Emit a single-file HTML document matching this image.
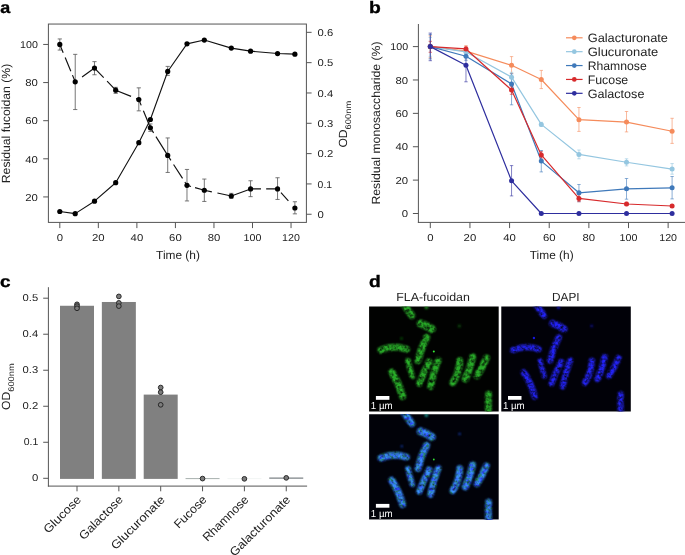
<!DOCTYPE html>
<html lang="en"><head><meta charset="utf-8"><title>Figure</title>
<style>html,body{margin:0;padding:0;background:#fff;}svg{display:block;}text{text-rendering:geometricPrecision;font-family:'Liberation Sans', sans-serif;}</style></head><body>
<svg width="685" height="555" viewBox="0 0 685 555">
<defs>
<filter id="b05" x="-50%" y="-50%" width="200%" height="200%"><feGaussianBlur stdDeviation="0.5"/></filter>
<filter id="b08" x="-50%" y="-50%" width="200%" height="200%"><feGaussianBlur stdDeviation="0.8"/></filter>
<filter id="fg" x="-5%" y="-5%" width="110%" height="110%" color-interpolation-filters="sRGB">
  <feGaussianBlur in="SourceGraphic" stdDeviation="0.9" result="bl"/>
  <feTurbulence type="fractalNoise" baseFrequency="0.30" numOctaves="2" seed="7" result="nz"/>
  <feColorMatrix in="nz" type="matrix" values="2.1 0 0 0 -0.3  2.1 0 0 0 -0.3  2.1 0 0 0 -0.3  0 0 0 0 1" result="nm"/>
  <feComposite in="bl" in2="nm" operator="arithmetic" k1="0.92" k2="0.12" k3="0" k4="0"/>
</filter>
<filter id="fb" x="-5%" y="-5%" width="110%" height="110%" color-interpolation-filters="sRGB">
  <feGaussianBlur in="SourceGraphic" stdDeviation="0.85" result="bl"/>
  <feTurbulence type="fractalNoise" baseFrequency="0.34" numOctaves="2" seed="31" result="nz"/>
  <feColorMatrix in="nz" type="matrix" values="2.1 0 0 0 -0.3  2.1 0 0 0 -0.3  2.1 0 0 0 -0.3  0 0 0 0 1" result="nm"/>
  <feComposite in="bl" in2="nm" operator="arithmetic" k1="0.92" k2="0.12" k3="0" k4="0"/>
</filter>
</defs>
<rect width="685" height="555" fill="#fff"/>
<g opacity="0.999">
<text x="0.20" y="12.70" font-size="16.5" text-anchor="start" fill="#000" font-weight="bold" stroke="#000" stroke-width="0.35" textLength="10.0" lengthAdjust="spacingAndGlyphs">a</text>
<rect x="48.4" y="24.05" width="258.0" height="198.35" fill="none" stroke="#555" stroke-width="1"/>
<line x1="43.20" y1="196.93" x2="48.40" y2="196.93" stroke="#555" stroke-width="1" />
<text x="37.90" y="200.63" font-size="10.0" text-anchor="end" fill="#222" font-weight="normal"  textLength="12.6" lengthAdjust="spacingAndGlyphs">20</text>
<line x1="43.20" y1="158.81" x2="48.40" y2="158.81" stroke="#555" stroke-width="1" />
<text x="37.90" y="162.51" font-size="10.0" text-anchor="end" fill="#222" font-weight="normal"  textLength="12.6" lengthAdjust="spacingAndGlyphs">40</text>
<line x1="43.20" y1="120.69" x2="48.40" y2="120.69" stroke="#555" stroke-width="1" />
<text x="37.90" y="124.39" font-size="10.0" text-anchor="end" fill="#222" font-weight="normal"  textLength="12.6" lengthAdjust="spacingAndGlyphs">60</text>
<line x1="43.20" y1="82.57" x2="48.40" y2="82.57" stroke="#555" stroke-width="1" />
<text x="37.90" y="86.27" font-size="10.0" text-anchor="end" fill="#222" font-weight="normal"  textLength="12.6" lengthAdjust="spacingAndGlyphs">80</text>
<line x1="43.20" y1="44.45" x2="48.40" y2="44.45" stroke="#555" stroke-width="1" />
<text x="37.90" y="48.15" font-size="10.0" text-anchor="end" fill="#222" font-weight="normal"  textLength="17.8" lengthAdjust="spacingAndGlyphs">100</text>
<line x1="59.80" y1="222.40" x2="59.80" y2="228.10" stroke="#555" stroke-width="1" />
<text x="59.80" y="241.40" font-size="10.0" text-anchor="middle" fill="#222" font-weight="normal"  textLength="6.3" lengthAdjust="spacingAndGlyphs">0</text>
<line x1="98.34" y1="222.40" x2="98.34" y2="228.10" stroke="#555" stroke-width="1" />
<text x="98.34" y="241.40" font-size="10.0" text-anchor="middle" fill="#222" font-weight="normal"  textLength="12.6" lengthAdjust="spacingAndGlyphs">20</text>
<line x1="136.88" y1="222.40" x2="136.88" y2="228.10" stroke="#555" stroke-width="1" />
<text x="136.88" y="241.40" font-size="10.0" text-anchor="middle" fill="#222" font-weight="normal"  textLength="12.6" lengthAdjust="spacingAndGlyphs">40</text>
<line x1="175.42" y1="222.40" x2="175.42" y2="228.10" stroke="#555" stroke-width="1" />
<text x="175.42" y="241.40" font-size="10.0" text-anchor="middle" fill="#222" font-weight="normal"  textLength="12.6" lengthAdjust="spacingAndGlyphs">60</text>
<line x1="213.96" y1="222.40" x2="213.96" y2="228.10" stroke="#555" stroke-width="1" />
<text x="213.96" y="241.40" font-size="10.0" text-anchor="middle" fill="#222" font-weight="normal"  textLength="12.6" lengthAdjust="spacingAndGlyphs">80</text>
<line x1="252.50" y1="222.40" x2="252.50" y2="228.10" stroke="#555" stroke-width="1" />
<text x="252.50" y="241.40" font-size="10.0" text-anchor="middle" fill="#222" font-weight="normal"  textLength="17.8" lengthAdjust="spacingAndGlyphs">100</text>
<line x1="291.04" y1="222.40" x2="291.04" y2="228.10" stroke="#555" stroke-width="1" />
<text x="291.04" y="241.40" font-size="10.0" text-anchor="middle" fill="#222" font-weight="normal"  textLength="17.8" lengthAdjust="spacingAndGlyphs">120</text>
<line x1="306.40" y1="214.25" x2="311.60" y2="214.25" stroke="#555" stroke-width="1" />
<text x="317.60" y="217.95" font-size="10.0" text-anchor="start" fill="#222" font-weight="normal"  textLength="6.3" lengthAdjust="spacingAndGlyphs">0</text>
<line x1="306.40" y1="183.93" x2="311.60" y2="183.93" stroke="#555" stroke-width="1" />
<text x="317.60" y="187.63" font-size="10.0" text-anchor="start" fill="#222" font-weight="normal"  textLength="14.5" lengthAdjust="spacingAndGlyphs">0.1</text>
<line x1="306.40" y1="153.61" x2="311.60" y2="153.61" stroke="#555" stroke-width="1" />
<text x="317.60" y="157.31" font-size="10.0" text-anchor="start" fill="#222" font-weight="normal"  textLength="15.6" lengthAdjust="spacingAndGlyphs">0.2</text>
<line x1="306.40" y1="123.29" x2="311.60" y2="123.29" stroke="#555" stroke-width="1" />
<text x="317.60" y="126.99" font-size="10.0" text-anchor="start" fill="#222" font-weight="normal"  textLength="15.6" lengthAdjust="spacingAndGlyphs">0.3</text>
<line x1="306.40" y1="92.97" x2="311.60" y2="92.97" stroke="#555" stroke-width="1" />
<text x="317.60" y="96.67" font-size="10.0" text-anchor="start" fill="#222" font-weight="normal"  textLength="15.6" lengthAdjust="spacingAndGlyphs">0.4</text>
<line x1="306.40" y1="62.65" x2="311.60" y2="62.65" stroke="#555" stroke-width="1" />
<text x="317.60" y="66.35" font-size="10.0" text-anchor="start" fill="#222" font-weight="normal"  textLength="15.6" lengthAdjust="spacingAndGlyphs">0.5</text>
<line x1="306.40" y1="32.33" x2="311.60" y2="32.33" stroke="#555" stroke-width="1" />
<text x="317.60" y="36.03" font-size="10.0" text-anchor="start" fill="#222" font-weight="normal"  textLength="15.6" lengthAdjust="spacingAndGlyphs">0.6</text>
<text x="178.00" y="258.90" font-size="11.8" text-anchor="middle" fill="#222" font-weight="normal"  textLength="43.8" lengthAdjust="spacingAndGlyphs">Time (h)</text>
<text x="10.30" y="123.50" font-size="11.8" text-anchor="middle" fill="#222" font-weight="normal" transform="rotate(-90 10.30 123.50)"  textLength="119.4" lengthAdjust="spacingAndGlyphs">Residual fucoidan (%)</text>
<text x="347.40" y="147.60" font-size="11.8" text-anchor="start" fill="#222" font-weight="normal" transform="rotate(-90 347.40 147.60)"  textLength="18.2" lengthAdjust="spacingAndGlyphs">OD</text>
<text x="350.80" y="129.40" font-size="8.2" text-anchor="start" fill="#222" font-weight="normal" transform="rotate(-90 350.80 129.40)"  textLength="28.6" lengthAdjust="spacingAndGlyphs">600nm</text>
<path d="M59.80 38.95V50.05M57.70 38.95H61.90M57.70 50.05H61.90" fill="none" stroke="#5e5e5e" stroke-width="0.85" />
<path d="M75.22 54.35V109.55M73.12 54.35H77.32M73.12 109.55H77.32" fill="none" stroke="#5e5e5e" stroke-width="0.85" />
<path d="M94.49 61.65V74.75M92.39 61.65H96.59M92.39 74.75H96.59" fill="none" stroke="#5e5e5e" stroke-width="0.85" />
<path d="M115.68 87.35V93.35M113.58 87.35H117.78M113.58 93.35H117.78" fill="none" stroke="#5e5e5e" stroke-width="0.85" />
<path d="M138.81 87.85V110.85M136.71 87.85H140.91M136.71 110.85H140.91" fill="none" stroke="#5e5e5e" stroke-width="0.85" />
<path d="M150.37 123.95V131.35M148.27 123.95H152.47M148.27 131.35H152.47" fill="none" stroke="#5e5e5e" stroke-width="0.85" />
<path d="M167.71 137.95V172.45M165.61 137.95H169.81M165.61 172.45H169.81" fill="none" stroke="#5e5e5e" stroke-width="0.85" />
<path d="M186.98 169.45V200.95M184.88 169.45H189.08M184.88 200.95H189.08" fill="none" stroke="#5e5e5e" stroke-width="0.85" />
<path d="M204.32 179.05V201.45M202.22 179.05H206.42M202.22 201.45H206.42" fill="none" stroke="#5e5e5e" stroke-width="0.85" />
<path d="M231.30 193.35V198.35M229.20 193.35H233.40M229.20 198.35H233.40" fill="none" stroke="#5e5e5e" stroke-width="0.85" />
<path d="M250.57 180.75V196.65M248.47 180.75H252.67M248.47 196.65H252.67" fill="none" stroke="#5e5e5e" stroke-width="0.85" />
<path d="M277.55 177.75V199.45M275.45 177.75H279.65M275.45 199.45H279.65" fill="none" stroke="#5e5e5e" stroke-width="0.85" />
<path d="M294.89 201.75V213.85M292.79 201.75H296.99M292.79 213.85H296.99" fill="none" stroke="#5e5e5e" stroke-width="0.85" />
<path d="M167.71 66.40V75.40M165.61 66.40H169.81M165.61 75.40H169.81" fill="none" stroke="#5e5e5e" stroke-width="0.85" />
<polyline fill="none" stroke="#111" stroke-width="1.1" stroke-linejoin="round" points="59.80,211.52 75.22,213.64 94.49,201.21 115.68,182.72 138.81,142.69 150.37,119.50 167.71,71.44 186.98,43.85 204.32,40.03 231.30,48.10 250.57,51.13 277.55,53.55 294.89,54.16" />
<line x1="59.80" y1="44.45" x2="75.22" y2="81.81" stroke="#111" stroke-width="1.15" stroke-dasharray="8.9 5.2 14.8 4.3 200.0 0.0"/>
<line x1="75.22" y1="81.81" x2="94.49" y2="68.08" stroke="#111" stroke-width="1.15" stroke-dasharray="2.1 6.3 200.0 0.0"/>
<line x1="94.49" y1="68.08" x2="115.68" y2="90.19" stroke="#111" stroke-width="1.15" stroke-dasharray="13.3 4.9 200.0 0.0"/>
<line x1="115.68" y1="90.19" x2="138.81" y2="99.53" stroke="#111" stroke-width="1.15" stroke-dasharray="16.6 5.4 200.0 0.0"/>
<line x1="138.81" y1="99.53" x2="150.37" y2="127.74" stroke="#111" stroke-width="1.15" stroke-dasharray="6.3 5.8 200.0 0.0"/>
<line x1="150.37" y1="127.74" x2="167.71" y2="155.38" stroke="#111" stroke-width="1.15" stroke-dasharray="6.1 4.4 200.0 0.0"/>
<line x1="167.71" y1="155.38" x2="186.98" y2="185.30" stroke="#111" stroke-width="1.15" stroke-dasharray="5.9 4.9 16.6 4.3 200.0 0.0"/>
<line x1="186.98" y1="185.30" x2="204.32" y2="190.26" stroke="#111" stroke-width="1.15" stroke-dasharray="4.2 4.2 200.0 0.0"/>
<line x1="204.32" y1="190.26" x2="231.30" y2="195.98" stroke="#111" stroke-width="1.15" stroke-dasharray="7.7 5.7 200.0 0.0"/>
<line x1="231.30" y1="195.98" x2="250.57" y2="188.92" stroke="#111" stroke-width="1.15" stroke-dasharray="200.0 0.0"/>
<line x1="250.57" y1="188.92" x2="277.55" y2="188.92" stroke="#111" stroke-width="1.15" stroke-dasharray="10.4 5.2 200.0 0.0"/>
<line x1="277.55" y1="188.92" x2="294.89" y2="207.98" stroke="#111" stroke-width="1.15" stroke-dasharray="0.0 5.1 11.0 9.5 200.0 0.0"/>
<circle cx="59.80" cy="211.52" r="2.6" fill="#000" />
<circle cx="75.22" cy="213.64" r="2.6" fill="#000" />
<circle cx="94.49" cy="201.21" r="2.6" fill="#000" />
<circle cx="115.68" cy="182.72" r="2.6" fill="#000" />
<circle cx="138.81" cy="142.69" r="2.6" fill="#000" />
<circle cx="150.37" cy="119.50" r="2.6" fill="#000" />
<circle cx="167.71" cy="71.44" r="2.6" fill="#000" />
<circle cx="186.98" cy="43.85" r="2.6" fill="#000" />
<circle cx="204.32" cy="40.03" r="2.6" fill="#000" />
<circle cx="231.30" cy="48.10" r="2.6" fill="#000" />
<circle cx="250.57" cy="51.13" r="2.6" fill="#000" />
<circle cx="277.55" cy="53.55" r="2.6" fill="#000" />
<circle cx="294.89" cy="54.16" r="2.6" fill="#000" />
<circle cx="59.80" cy="44.45" r="2.6" fill="#000" />
<circle cx="75.22" cy="81.81" r="2.6" fill="#000" />
<circle cx="94.49" cy="68.08" r="2.6" fill="#000" />
<circle cx="115.68" cy="90.19" r="2.6" fill="#000" />
<circle cx="138.81" cy="99.53" r="2.6" fill="#000" />
<circle cx="150.37" cy="127.74" r="2.6" fill="#000" />
<circle cx="167.71" cy="155.38" r="2.6" fill="#000" />
<circle cx="186.98" cy="185.30" r="2.6" fill="#000" />
<circle cx="204.32" cy="190.26" r="2.6" fill="#000" />
<circle cx="231.30" cy="195.98" r="2.6" fill="#000" />
<circle cx="250.57" cy="188.92" r="2.6" fill="#000" />
<circle cx="277.55" cy="188.92" r="2.6" fill="#000" />
<circle cx="294.89" cy="207.98" r="2.6" fill="#000" />
<text x="369.10" y="13.00" font-size="16.5" text-anchor="start" fill="#000" font-weight="bold" stroke="#000" stroke-width="0.35" textLength="11.8" lengthAdjust="spacingAndGlyphs">b</text>
<line x1="418.40" y1="24.00" x2="418.40" y2="222.90" stroke="#555" stroke-width="1" />
<line x1="417.90" y1="222.40" x2="685.00" y2="222.40" stroke="#555" stroke-width="1" />
<line x1="412.90" y1="213.50" x2="418.40" y2="213.50" stroke="#555" stroke-width="1" />
<text x="408.10" y="217.10" font-size="10.0" text-anchor="end" fill="#222" font-weight="normal"  textLength="6.3" lengthAdjust="spacingAndGlyphs">0</text>
<line x1="412.90" y1="180.12" x2="418.40" y2="180.12" stroke="#555" stroke-width="1" />
<text x="408.10" y="183.72" font-size="10.0" text-anchor="end" fill="#222" font-weight="normal"  textLength="12.6" lengthAdjust="spacingAndGlyphs">20</text>
<line x1="412.90" y1="146.74" x2="418.40" y2="146.74" stroke="#555" stroke-width="1" />
<text x="408.10" y="150.34" font-size="10.0" text-anchor="end" fill="#222" font-weight="normal"  textLength="12.6" lengthAdjust="spacingAndGlyphs">40</text>
<line x1="412.90" y1="113.36" x2="418.40" y2="113.36" stroke="#555" stroke-width="1" />
<text x="408.10" y="116.96" font-size="10.0" text-anchor="end" fill="#222" font-weight="normal"  textLength="12.6" lengthAdjust="spacingAndGlyphs">60</text>
<line x1="412.90" y1="79.98" x2="418.40" y2="79.98" stroke="#555" stroke-width="1" />
<text x="408.10" y="83.58" font-size="10.0" text-anchor="end" fill="#222" font-weight="normal"  textLength="12.6" lengthAdjust="spacingAndGlyphs">80</text>
<line x1="412.90" y1="46.60" x2="418.40" y2="46.60" stroke="#555" stroke-width="1" />
<text x="408.10" y="50.20" font-size="10.0" text-anchor="end" fill="#222" font-weight="normal"  textLength="17.8" lengthAdjust="spacingAndGlyphs">100</text>
<line x1="430.30" y1="222.40" x2="430.30" y2="228.10" stroke="#555" stroke-width="1" />
<text x="430.30" y="241.40" font-size="10.0" text-anchor="middle" fill="#222" font-weight="normal"  textLength="6.3" lengthAdjust="spacingAndGlyphs">0</text>
<line x1="469.94" y1="222.40" x2="469.94" y2="228.10" stroke="#555" stroke-width="1" />
<text x="469.94" y="241.40" font-size="10.0" text-anchor="middle" fill="#222" font-weight="normal"  textLength="12.6" lengthAdjust="spacingAndGlyphs">20</text>
<line x1="509.58" y1="222.40" x2="509.58" y2="228.10" stroke="#555" stroke-width="1" />
<text x="509.58" y="241.40" font-size="10.0" text-anchor="middle" fill="#222" font-weight="normal"  textLength="12.6" lengthAdjust="spacingAndGlyphs">40</text>
<line x1="549.22" y1="222.40" x2="549.22" y2="228.10" stroke="#555" stroke-width="1" />
<text x="549.22" y="241.40" font-size="10.0" text-anchor="middle" fill="#222" font-weight="normal"  textLength="12.6" lengthAdjust="spacingAndGlyphs">60</text>
<line x1="588.86" y1="222.40" x2="588.86" y2="228.10" stroke="#555" stroke-width="1" />
<text x="588.86" y="241.40" font-size="10.0" text-anchor="middle" fill="#222" font-weight="normal"  textLength="12.6" lengthAdjust="spacingAndGlyphs">80</text>
<line x1="628.50" y1="222.40" x2="628.50" y2="228.10" stroke="#555" stroke-width="1" />
<text x="628.50" y="241.40" font-size="10.0" text-anchor="middle" fill="#222" font-weight="normal"  textLength="17.8" lengthAdjust="spacingAndGlyphs">100</text>
<line x1="668.14" y1="222.40" x2="668.14" y2="228.10" stroke="#555" stroke-width="1" />
<text x="668.14" y="241.40" font-size="10.0" text-anchor="middle" fill="#222" font-weight="normal"  textLength="17.8" lengthAdjust="spacingAndGlyphs">120</text>
<text x="551.70" y="258.90" font-size="11.8" text-anchor="middle" fill="#222" font-weight="normal"  textLength="43.8" lengthAdjust="spacingAndGlyphs">Time (h)</text>
<text x="380.00" y="123.00" font-size="11.8" text-anchor="middle" fill="#222" font-weight="normal" transform="rotate(-90 380.00 123.00)"  textLength="163.1" lengthAdjust="spacingAndGlyphs">Residual monosaccharide (%)</text>
<path d="M430.30 35.80V57.80M428.60 35.80H432.00M428.60 57.80H432.00" fill="none" stroke="#F58B5B" stroke-width="0.75" opacity="0.8"/>
<path d="M465.98 45.60V55.30M464.28 45.60H467.68M464.28 55.30H467.68" fill="none" stroke="#F58B5B" stroke-width="0.75" opacity="0.8"/>
<path d="M511.56 56.60V73.30M509.86 56.60H513.26M509.86 73.30H513.26" fill="none" stroke="#F58B5B" stroke-width="0.75" opacity="0.8"/>
<path d="M541.29 70.40V88.60M539.59 70.40H542.99M539.59 88.60H542.99" fill="none" stroke="#F58B5B" stroke-width="0.75" opacity="0.8"/>
<path d="M578.95 107.50V131.40M577.25 107.50H580.65M577.25 131.40H580.65" fill="none" stroke="#F58B5B" stroke-width="0.75" opacity="0.8"/>
<path d="M626.52 111.50V131.90M624.82 111.50H628.22M624.82 131.90H628.22" fill="none" stroke="#F58B5B" stroke-width="0.75" opacity="0.8"/>
<path d="M672.10 118.30V143.40M670.40 118.30H673.80M670.40 143.40H673.80" fill="none" stroke="#F58B5B" stroke-width="0.75" opacity="0.8"/>
<path d="M430.30 37.50V56.30M428.60 37.50H432.00M428.60 56.30H432.00" fill="none" stroke="#94C6E0" stroke-width="0.75" opacity="0.8"/>
<path d="M465.98 49.30V55.30M464.28 49.30H467.68M464.28 55.30H467.68" fill="none" stroke="#94C6E0" stroke-width="0.75" opacity="0.8"/>
<path d="M511.56 72.30V82.30M509.86 72.30H513.26M509.86 82.30H513.26" fill="none" stroke="#94C6E0" stroke-width="0.75" opacity="0.8"/>
<path d="M541.29 122.30V126.30M539.59 122.30H542.99M539.59 126.30H542.99" fill="none" stroke="#94C6E0" stroke-width="0.75" opacity="0.8"/>
<path d="M578.95 150.00V158.80M577.25 150.00H580.65M577.25 158.80H580.65" fill="none" stroke="#94C6E0" stroke-width="0.75" opacity="0.8"/>
<path d="M626.52 158.80V165.90M624.82 158.80H628.22M624.82 165.90H628.22" fill="none" stroke="#94C6E0" stroke-width="0.75" opacity="0.8"/>
<path d="M672.10 163.60V174.20M670.40 163.60H673.80M670.40 174.20H673.80" fill="none" stroke="#94C6E0" stroke-width="0.75" opacity="0.8"/>
<path d="M430.30 34.50V58.90M428.60 34.50H432.00M428.60 58.90H432.00" fill="none" stroke="#3F79BA" stroke-width="0.75" opacity="0.8"/>
<path d="M465.98 52.30V60.30M464.28 52.30H467.68M464.28 60.30H467.68" fill="none" stroke="#3F79BA" stroke-width="0.75" opacity="0.8"/>
<path d="M511.56 73.80V104.80M509.86 73.80H513.26M509.86 104.80H513.26" fill="none" stroke="#3F79BA" stroke-width="0.75" opacity="0.8"/>
<path d="M541.29 150.50V171.90M539.59 150.50H542.99M539.59 171.90H542.99" fill="none" stroke="#3F79BA" stroke-width="0.75" opacity="0.8"/>
<path d="M578.95 184.50V201.70M577.25 184.50H580.65M577.25 201.70H580.65" fill="none" stroke="#3F79BA" stroke-width="0.75" opacity="0.8"/>
<path d="M626.52 178.50V199.20M624.82 178.50H628.22M624.82 199.20H628.22" fill="none" stroke="#3F79BA" stroke-width="0.75" opacity="0.8"/>
<path d="M672.10 176.50V198.90M670.40 176.50H673.80M670.40 198.90H673.80" fill="none" stroke="#3F79BA" stroke-width="0.75" opacity="0.8"/>
<path d="M430.30 41.30V52.30M428.60 41.30H432.00M428.60 52.30H432.00" fill="none" stroke="#D72A2C" stroke-width="0.75" opacity="0.8"/>
<path d="M465.98 46.80V51.30M464.28 46.80H467.68M464.28 51.30H467.68" fill="none" stroke="#D72A2C" stroke-width="0.75" opacity="0.8"/>
<path d="M511.56 86.30V94.30M509.86 86.30H513.26M509.86 94.30H513.26" fill="none" stroke="#D72A2C" stroke-width="0.75" opacity="0.8"/>
<path d="M541.29 151.70V158.00M539.59 151.70H542.99M539.59 158.00H542.99" fill="none" stroke="#D72A2C" stroke-width="0.75" opacity="0.8"/>
<path d="M578.95 194.60V201.70M577.25 194.60H580.65M577.25 201.70H580.65" fill="none" stroke="#D72A2C" stroke-width="0.75" opacity="0.8"/>
<path d="M626.52 202.30V205.60M624.82 202.30H628.22M624.82 205.60H628.22" fill="none" stroke="#D72A2C" stroke-width="0.75" opacity="0.8"/>
<path d="M672.10 204.60V207.40M670.40 204.60H673.80M670.40 207.40H673.80" fill="none" stroke="#D72A2C" stroke-width="0.75" opacity="0.8"/>
<path d="M430.30 33.10V60.70M428.60 33.10H432.00M428.60 60.70H432.00" fill="none" stroke="#2E2E9E" stroke-width="0.75" opacity="0.8"/>
<path d="M465.98 49.50V81.80M464.28 49.50H467.68M464.28 81.80H467.68" fill="none" stroke="#2E2E9E" stroke-width="0.75" opacity="0.8"/>
<path d="M511.56 165.60V195.90M509.86 165.60H513.26M509.86 195.90H513.26" fill="none" stroke="#2E2E9E" stroke-width="0.75" opacity="0.8"/>
<polyline fill="none" stroke="#F58B5B" stroke-width="1.2" stroke-linejoin="round" points="430.30,46.60 465.98,51.11 511.56,65.29 541.29,79.48 578.95,119.70 626.52,122.04 672.10,131.22" />
<circle cx="430.30" cy="46.60" r="2.5" fill="#F58B5B" />
<circle cx="465.98" cy="51.11" r="2.5" fill="#F58B5B" />
<circle cx="511.56" cy="65.29" r="2.5" fill="#F58B5B" />
<circle cx="541.29" cy="79.48" r="2.5" fill="#F58B5B" />
<circle cx="578.95" cy="119.70" r="2.5" fill="#F58B5B" />
<circle cx="626.52" cy="122.04" r="2.5" fill="#F58B5B" />
<circle cx="672.10" cy="131.22" r="2.5" fill="#F58B5B" />
<polyline fill="none" stroke="#94C6E0" stroke-width="1.2" stroke-linejoin="round" points="430.30,46.60 465.98,51.94 511.56,77.14 541.29,124.38 578.95,154.42 626.52,162.26 672.10,169.10" />
<circle cx="430.30" cy="46.60" r="2.5" fill="#94C6E0" />
<circle cx="465.98" cy="51.94" r="2.5" fill="#94C6E0" />
<circle cx="511.56" cy="77.14" r="2.5" fill="#94C6E0" />
<circle cx="541.29" cy="124.38" r="2.5" fill="#94C6E0" />
<circle cx="578.95" cy="154.42" r="2.5" fill="#94C6E0" />
<circle cx="626.52" cy="162.26" r="2.5" fill="#94C6E0" />
<circle cx="672.10" cy="169.10" r="2.5" fill="#94C6E0" />
<polyline fill="none" stroke="#3F79BA" stroke-width="1.2" stroke-linejoin="round" points="430.30,46.60 465.98,56.28 511.56,83.99 541.29,161.09 578.95,192.80 626.52,188.80 672.10,187.80" />
<circle cx="430.30" cy="46.60" r="2.5" fill="#3F79BA" />
<circle cx="465.98" cy="56.28" r="2.5" fill="#3F79BA" />
<circle cx="511.56" cy="83.99" r="2.5" fill="#3F79BA" />
<circle cx="541.29" cy="161.09" r="2.5" fill="#3F79BA" />
<circle cx="578.95" cy="192.80" r="2.5" fill="#3F79BA" />
<circle cx="626.52" cy="188.80" r="2.5" fill="#3F79BA" />
<circle cx="672.10" cy="187.80" r="2.5" fill="#3F79BA" />
<polyline fill="none" stroke="#D72A2C" stroke-width="1.2" stroke-linejoin="round" points="430.30,46.60 465.98,48.94 511.56,89.99 541.29,154.92 578.95,198.40 626.52,203.99 672.10,205.99" />
<circle cx="430.30" cy="46.60" r="2.5" fill="#D72A2C" />
<circle cx="465.98" cy="48.94" r="2.5" fill="#D72A2C" />
<circle cx="511.56" cy="89.99" r="2.5" fill="#D72A2C" />
<circle cx="541.29" cy="154.92" r="2.5" fill="#D72A2C" />
<circle cx="578.95" cy="198.40" r="2.5" fill="#D72A2C" />
<circle cx="626.52" cy="203.99" r="2.5" fill="#D72A2C" />
<circle cx="672.10" cy="205.99" r="2.5" fill="#D72A2C" />
<polyline fill="none" stroke="#2E2E9E" stroke-width="1.2" stroke-linejoin="round" points="430.30,46.60 465.98,65.29 511.56,180.79 541.29,213.50 578.95,213.50 626.52,213.50 672.10,213.50" />
<circle cx="430.30" cy="46.60" r="2.5" fill="#2E2E9E" />
<circle cx="465.98" cy="65.29" r="2.5" fill="#2E2E9E" />
<circle cx="511.56" cy="180.79" r="2.5" fill="#2E2E9E" />
<circle cx="541.29" cy="213.50" r="2.5" fill="#2E2E9E" />
<circle cx="578.95" cy="213.50" r="2.5" fill="#2E2E9E" />
<circle cx="626.52" cy="213.50" r="2.5" fill="#2E2E9E" />
<circle cx="672.10" cy="213.50" r="2.5" fill="#2E2E9E" />
<line x1="566.00" y1="37.80" x2="582.60" y2="37.80" stroke="#F58B5B" stroke-width="1.2" />
<circle cx="574.30" cy="37.80" r="2.35" fill="#F58B5B" />
<text x="587.70" y="42.20" font-size="12.2" text-anchor="start" fill="#222" font-weight="normal"  textLength="80.3" lengthAdjust="spacingAndGlyphs">Galacturonate</text>
<line x1="566.00" y1="51.68" x2="582.60" y2="51.68" stroke="#94C6E0" stroke-width="1.2" />
<circle cx="574.30" cy="51.68" r="2.35" fill="#94C6E0" />
<text x="587.70" y="56.08" font-size="12.2" text-anchor="start" fill="#222" font-weight="normal"  textLength="70.6" lengthAdjust="spacingAndGlyphs">Glucuronate</text>
<line x1="566.00" y1="65.56" x2="582.60" y2="65.56" stroke="#3F79BA" stroke-width="1.2" />
<circle cx="574.30" cy="65.56" r="2.35" fill="#3F79BA" />
<text x="587.70" y="69.96" font-size="12.2" text-anchor="start" fill="#222" font-weight="normal"  textLength="59.0" lengthAdjust="spacingAndGlyphs">Rhamnose</text>
<line x1="566.00" y1="79.44" x2="582.60" y2="79.44" stroke="#D72A2C" stroke-width="1.2" />
<circle cx="574.30" cy="79.44" r="2.35" fill="#D72A2C" />
<text x="587.70" y="83.84" font-size="12.2" text-anchor="start" fill="#222" font-weight="normal"  textLength="40.5" lengthAdjust="spacingAndGlyphs">Fucose</text>
<line x1="566.00" y1="93.32" x2="582.60" y2="93.32" stroke="#2E2E9E" stroke-width="1.2" />
<circle cx="574.30" cy="93.32" r="2.35" fill="#2E2E9E" />
<text x="587.70" y="97.72" font-size="12.2" text-anchor="start" fill="#222" font-weight="normal"  textLength="56.7" lengthAdjust="spacingAndGlyphs">Galactose</text>
<text x="0.00" y="287.30" font-size="16.5" text-anchor="start" fill="#000" font-weight="bold" stroke="#000" stroke-width="0.35" textLength="10.6" lengthAdjust="spacingAndGlyphs">c</text>
<line x1="48.40" y1="287.20" x2="48.40" y2="486.60" stroke="#555" stroke-width="1" />
<line x1="47.90" y1="486.10" x2="307.10" y2="486.10" stroke="#555" stroke-width="1" />
<line x1="43.20" y1="478.30" x2="48.40" y2="478.30" stroke="#555" stroke-width="1" />
<text x="38.20" y="481.30" font-size="10.0" text-anchor="end" fill="#222" font-weight="normal"  textLength="6.3" lengthAdjust="spacingAndGlyphs">0</text>
<line x1="43.20" y1="442.28" x2="48.40" y2="442.28" stroke="#555" stroke-width="1" />
<text x="38.20" y="445.28" font-size="10.0" text-anchor="end" fill="#222" font-weight="normal"  textLength="14.5" lengthAdjust="spacingAndGlyphs">0.1</text>
<line x1="43.20" y1="406.26" x2="48.40" y2="406.26" stroke="#555" stroke-width="1" />
<text x="38.20" y="409.26" font-size="10.0" text-anchor="end" fill="#222" font-weight="normal"  textLength="15.6" lengthAdjust="spacingAndGlyphs">0.2</text>
<line x1="43.20" y1="370.24" x2="48.40" y2="370.24" stroke="#555" stroke-width="1" />
<text x="38.20" y="373.24" font-size="10.0" text-anchor="end" fill="#222" font-weight="normal"  textLength="15.6" lengthAdjust="spacingAndGlyphs">0.3</text>
<line x1="43.20" y1="334.22" x2="48.40" y2="334.22" stroke="#555" stroke-width="1" />
<text x="38.20" y="337.22" font-size="10.0" text-anchor="end" fill="#222" font-weight="normal"  textLength="15.6" lengthAdjust="spacingAndGlyphs">0.4</text>
<line x1="43.20" y1="298.20" x2="48.40" y2="298.20" stroke="#555" stroke-width="1" />
<text x="38.20" y="301.20" font-size="10.0" text-anchor="end" fill="#222" font-weight="normal"  textLength="15.6" lengthAdjust="spacingAndGlyphs">0.5</text>
<rect x="60.00" y="305.76" width="34" height="173.14" fill="#808080"/>
<line x1="77.00" y1="486.10" x2="77.00" y2="491.30" stroke="#555" stroke-width="1" />
<circle cx="77.00" cy="304.32" r="2.35" fill="#7c7c7c" stroke="#222" stroke-width="0.95"/>
<circle cx="77.00" cy="306.12" r="2.35" fill="#7c7c7c" stroke="#222" stroke-width="0.95"/>
<circle cx="77.00" cy="308.29" r="2.35" fill="#7c7c7c" stroke="#222" stroke-width="0.95"/>
<text x="81.90" y="500.40" font-size="11.9" text-anchor="end" fill="#222" font-weight="normal" transform="rotate(-45 81.90 500.40)"  textLength="47.6" lengthAdjust="spacingAndGlyphs">Glucose</text>
<rect x="101.85" y="301.98" width="34" height="176.92" fill="#808080"/>
<line x1="118.85" y1="486.10" x2="118.85" y2="491.30" stroke="#555" stroke-width="1" />
<circle cx="118.85" cy="296.40" r="2.35" fill="#7c7c7c" stroke="#222" stroke-width="0.95"/>
<circle cx="118.85" cy="302.88" r="2.35" fill="#7c7c7c" stroke="#222" stroke-width="0.95"/>
<circle cx="118.85" cy="306.12" r="2.35" fill="#7c7c7c" stroke="#222" stroke-width="0.95"/>
<text x="123.75" y="500.40" font-size="11.9" text-anchor="end" fill="#222" font-weight="normal" transform="rotate(-45 123.75 500.40)"  textLength="56.6" lengthAdjust="spacingAndGlyphs">Galactose</text>
<rect x="143.70" y="394.59" width="34" height="84.31" fill="#808080"/>
<line x1="160.70" y1="486.10" x2="160.70" y2="491.30" stroke="#555" stroke-width="1" />
<circle cx="160.70" cy="387.53" r="2.35" fill="#7c7c7c" stroke="#222" stroke-width="0.95"/>
<circle cx="160.70" cy="392.21" r="2.35" fill="#7c7c7c" stroke="#222" stroke-width="0.95"/>
<circle cx="160.70" cy="404.82" r="2.35" fill="#7c7c7c" stroke="#222" stroke-width="0.95"/>
<text x="165.60" y="500.40" font-size="11.9" text-anchor="end" fill="#222" font-weight="normal" transform="rotate(-45 165.60 500.40)"  textLength="70.6" lengthAdjust="spacingAndGlyphs">Glucuronate</text>
<line x1="185.55" y1="478.60" x2="219.55" y2="478.60" stroke="#8f9a98" stroke-width="0.8" />
<line x1="202.55" y1="486.10" x2="202.55" y2="491.30" stroke="#555" stroke-width="1" />
<circle cx="202.55" cy="478.59" r="2.35" fill="#7c7c7c" stroke="#222" stroke-width="0.95"/>
<text x="207.45" y="500.40" font-size="11.9" text-anchor="end" fill="#222" font-weight="normal" transform="rotate(-45 207.45 500.40)"  textLength="40.6" lengthAdjust="spacingAndGlyphs">Fucose</text>
<line x1="227.40" y1="478.60" x2="261.40" y2="478.60" stroke="#eef2f0" stroke-width="0.8" />
<line x1="244.40" y1="486.10" x2="244.40" y2="491.30" stroke="#555" stroke-width="1" />
<circle cx="244.40" cy="478.84" r="2.35" fill="#7c7c7c" stroke="#222" stroke-width="0.95"/>
<text x="249.30" y="500.40" font-size="11.9" text-anchor="end" fill="#222" font-weight="normal" transform="rotate(-45 249.30 500.40)"  textLength="59.0" lengthAdjust="spacingAndGlyphs">Rhamnose</text>
<line x1="269.25" y1="478.10" x2="303.25" y2="478.10" stroke="#5c6468" stroke-width="1.0" />
<line x1="286.25" y1="486.10" x2="286.25" y2="491.30" stroke="#555" stroke-width="1" />
<circle cx="286.25" cy="477.87" r="2.35" fill="#7c7c7c" stroke="#222" stroke-width="0.95"/>
<text x="291.15" y="500.40" font-size="11.9" text-anchor="end" fill="#222" font-weight="normal" transform="rotate(-45 291.15 500.40)"  textLength="80.2" lengthAdjust="spacingAndGlyphs">Galacturonate</text>
<text x="10.40" y="410.00" font-size="11.8" text-anchor="start" fill="#222" font-weight="normal" transform="rotate(-90 10.40 410.00)"  textLength="18.2" lengthAdjust="spacingAndGlyphs">OD</text>
<text x="13.80" y="391.80" font-size="8.2" text-anchor="start" fill="#222" font-weight="normal" transform="rotate(-90 13.80 391.80)"  textLength="28.6" lengthAdjust="spacingAndGlyphs">600nm</text>
<text x="369.00" y="287.30" font-size="16.5" text-anchor="start" fill="#000" font-weight="bold" stroke="#000" stroke-width="0.35" textLength="11.8" lengthAdjust="spacingAndGlyphs">d</text>
<text x="433.00" y="301.30" font-size="11.8" text-anchor="middle" fill="#222" font-weight="normal"  textLength="73.6" lengthAdjust="spacingAndGlyphs">FLA-fucoidan</text>
<text x="565.80" y="301.30" font-size="11.8" text-anchor="middle" fill="#222" font-weight="normal" >DAPI</text>
<svg x="369.1" y="306.4" width="129.6" height="105.1" viewBox="369.1 306.4 129.6 105.1" overflow="hidden">
<rect x="369" y="306" width="131" height="106" fill="#000200"/>
<g stroke-linecap="round" fill="none" filter="url(#fg)" >
<path d="M404.0 304.5Q407.9 310.1 411.8 315.6" stroke="#34d034" stroke-width="6.5"/>
<path d="M420.6 323.4Q426.6 325.3 431.8 329.0" stroke="#34d034" stroke-width="7.3"/>
<path d="M380.8 350.2Q393.5 344.7 406.6 349.2" stroke="#34d034" stroke-width="6.3"/>
<path d="M426.6 337.4Q420.9 348.5 418.0 360.6" stroke="#34d034" stroke-width="6.5"/>
<path d="M408.0 360.6Q409.7 368.6 412.4 376.4" stroke="#34d034" stroke-width="5.1"/>
<path d="M391.8 372.4Q399.0 383.6 402.6 396.4" stroke="#34d034" stroke-width="6.7"/>
<path d="M429.0 361.8Q423.7 372.4 419.4 383.4" stroke="#34d034" stroke-width="6.1"/>
<path d="M438.2 360.4Q433.0 373.1 430.6 386.6" stroke="#34d034" stroke-width="6.1"/>
<path d="M459.8 360.6Q459.2 372.6 452.9 382.8" stroke="#34d034" stroke-width="6.4"/>
<path d="M472.6 357.0Q470.4 368.5 465.4 379.0" stroke="#34d034" stroke-width="6.5"/>
<path d="M486.4 358.0Q482.6 367.4 477.0 375.8" stroke="#34d034" stroke-width="6.3"/>
<path d="M488.6 394.0Q488.1 403.0 488.6 412.0" stroke="#34d034" stroke-width="6.1"/>
<path d="M404.0 304.5Q407.9 310.1 411.8 315.6" stroke="#239a23" stroke-width="3.5"/>
<path d="M420.6 323.4Q426.6 325.3 431.8 329.0" stroke="#239a23" stroke-width="4.3"/>
<path d="M380.8 350.2Q393.5 344.7 406.6 349.2" stroke="#239a23" stroke-width="3.3"/>
<path d="M426.6 337.4Q420.9 348.5 418.0 360.6" stroke="#239a23" stroke-width="3.5"/>
<path d="M408.0 360.6Q409.7 368.6 412.4 376.4" stroke="#239a23" stroke-width="2.1"/>
<path d="M391.8 372.4Q399.0 383.6 402.6 396.4" stroke="#239a23" stroke-width="3.7"/>
<path d="M429.0 361.8Q423.7 372.4 419.4 383.4" stroke="#239a23" stroke-width="3.1"/>
<path d="M438.2 360.4Q433.0 373.1 430.6 386.6" stroke="#239a23" stroke-width="3.1"/>
<path d="M459.8 360.6Q459.2 372.6 452.9 382.8" stroke="#239a23" stroke-width="3.4"/>
<path d="M472.6 357.0Q470.4 368.5 465.4 379.0" stroke="#239a23" stroke-width="3.5"/>
<path d="M486.4 358.0Q482.6 367.4 477.0 375.8" stroke="#239a23" stroke-width="3.3"/>
<path d="M488.6 394.0Q488.1 403.0 488.6 412.0" stroke="#239a23" stroke-width="3.1"/>
</g>
<circle cx="433.80" cy="351.60" r="1.0" fill="#35f035" filter="url(#b05)"/>
<circle cx="426.40" cy="307.40" r="1.7" fill="#1f9a1f" filter="url(#b08)"/>
<circle cx="459.30" cy="326.00" r="1.5" fill="#0d500d" filter="url(#b08)"/>
<circle cx="401.50" cy="338.50" r="1.2" fill="#126012" filter="url(#b08)"/>
<rect x="375.9" y="396.0" width="13.5" height="3.8" fill="#fff"/>
<text x="370.80" y="409.40" font-size="10.2" text-anchor="start" fill="#fff" font-weight="normal"  textLength="21.8" lengthAdjust="spacingAndGlyphs">1 µm</text>
</svg>
<svg x="501.2" y="306.4" width="129.6" height="105.1" viewBox="369.1 306.4 129.6 105.1" overflow="hidden">
<rect x="369" y="306" width="131" height="106" fill="#000008"/>
<g stroke-linecap="round" fill="none" filter="url(#fb)" >
<path d="M404.0 304.5Q407.9 310.1 411.8 315.6" stroke="#2a2aff" stroke-width="6.0"/>
<path d="M420.6 323.4Q426.6 325.3 431.8 329.0" stroke="#2a2aff" stroke-width="6.8"/>
<path d="M380.8 350.2Q393.5 344.7 406.6 349.2" stroke="#2a2aff" stroke-width="5.8"/>
<path d="M426.6 337.4Q420.9 348.5 418.0 360.6" stroke="#2a2aff" stroke-width="6.0"/>
<path d="M408.0 360.6Q409.7 368.6 412.4 376.4" stroke="#2a2aff" stroke-width="4.6"/>
<path d="M391.8 372.4Q399.0 383.6 402.6 396.4" stroke="#2a2aff" stroke-width="6.2"/>
<path d="M429.0 361.8Q423.7 372.4 419.4 383.4" stroke="#2a2aff" stroke-width="5.6"/>
<path d="M438.2 360.4Q433.0 373.1 430.6 386.6" stroke="#2a2aff" stroke-width="5.6"/>
<path d="M459.8 360.6Q459.2 372.6 452.9 382.8" stroke="#2a2aff" stroke-width="5.9"/>
<path d="M472.6 357.0Q470.4 368.5 465.4 379.0" stroke="#2a2aff" stroke-width="6.0"/>
<path d="M486.4 358.0Q482.6 367.4 477.0 375.8" stroke="#2a2aff" stroke-width="5.8"/>
<path d="M488.6 394.0Q488.1 403.0 488.6 412.0" stroke="#2a2aff" stroke-width="5.6"/>
<path d="M404.0 304.5Q407.9 310.1 411.8 315.6" stroke="#2020f0" stroke-width="3.4"/>
<path d="M420.6 323.4Q426.6 325.3 431.8 329.0" stroke="#2020f0" stroke-width="4.2"/>
<path d="M380.8 350.2Q393.5 344.7 406.6 349.2" stroke="#2020f0" stroke-width="3.2"/>
<path d="M426.6 337.4Q420.9 348.5 418.0 360.6" stroke="#2020f0" stroke-width="3.4"/>
<path d="M408.0 360.6Q409.7 368.6 412.4 376.4" stroke="#2020f0" stroke-width="2.0"/>
<path d="M391.8 372.4Q399.0 383.6 402.6 396.4" stroke="#2020f0" stroke-width="3.6"/>
<path d="M429.0 361.8Q423.7 372.4 419.4 383.4" stroke="#2020f0" stroke-width="3.0"/>
<path d="M438.2 360.4Q433.0 373.1 430.6 386.6" stroke="#2020f0" stroke-width="3.0"/>
<path d="M459.8 360.6Q459.2 372.6 452.9 382.8" stroke="#2020f0" stroke-width="3.3"/>
<path d="M472.6 357.0Q470.4 368.5 465.4 379.0" stroke="#2020f0" stroke-width="3.4"/>
<path d="M486.4 358.0Q482.6 367.4 477.0 375.8" stroke="#2020f0" stroke-width="3.2"/>
<path d="M488.6 394.0Q488.1 403.0 488.6 412.0" stroke="#2020f0" stroke-width="3.0"/>
</g>
<circle cx="426.40" cy="307.40" r="1.5" fill="#1818d8" filter="url(#b08)"/>
<circle cx="401.80" cy="338.00" r="1.2" fill="#1818d8" filter="url(#b05)"/>
<circle cx="459.60" cy="326.00" r="1.2" fill="#1414a8" filter="url(#b08)"/>
<rect x="375.9" y="396.0" width="13.5" height="3.8" fill="#fff"/>
<text x="370.80" y="409.40" font-size="10.2" text-anchor="start" fill="#fff" font-weight="normal"  textLength="21.8" lengthAdjust="spacingAndGlyphs">1 µm</text>
</svg>
<svg x="369.1" y="414.3" width="129.6" height="105.1" viewBox="369.1 306.4 129.6 105.1" overflow="hidden">
<rect x="369" y="306" width="131" height="106" fill="#000209"/>
<g stroke-linecap="round" fill="none" filter="url(#fg)" >
<path d="M404.0 304.5Q407.9 310.1 411.8 315.6" stroke="#26a426" stroke-width="6.3"/>
<path d="M420.6 323.4Q426.6 325.3 431.8 329.0" stroke="#26a426" stroke-width="7.1"/>
<path d="M380.8 350.2Q393.5 344.7 406.6 349.2" stroke="#26a426" stroke-width="6.1"/>
<path d="M426.6 337.4Q420.9 348.5 418.0 360.6" stroke="#26a426" stroke-width="6.3"/>
<path d="M408.0 360.6Q409.7 368.6 412.4 376.4" stroke="#26a426" stroke-width="4.9"/>
<path d="M391.8 372.4Q399.0 383.6 402.6 396.4" stroke="#26a426" stroke-width="6.5"/>
<path d="M429.0 361.8Q423.7 372.4 419.4 383.4" stroke="#26a426" stroke-width="5.9"/>
<path d="M438.2 360.4Q433.0 373.1 430.6 386.6" stroke="#26a426" stroke-width="5.9"/>
<path d="M459.8 360.6Q459.2 372.6 452.9 382.8" stroke="#26a426" stroke-width="6.2"/>
<path d="M472.6 357.0Q470.4 368.5 465.4 379.0" stroke="#26a426" stroke-width="6.3"/>
<path d="M486.4 358.0Q482.6 367.4 477.0 375.8" stroke="#26a426" stroke-width="6.1"/>
<path d="M488.6 394.0Q488.1 403.0 488.6 412.0" stroke="#26a426" stroke-width="5.9"/>
<path d="M404.0 304.5Q407.9 310.1 411.8 315.6" stroke="#166816" stroke-width="3.3"/>
<path d="M420.6 323.4Q426.6 325.3 431.8 329.0" stroke="#166816" stroke-width="4.1"/>
<path d="M380.8 350.2Q393.5 344.7 406.6 349.2" stroke="#166816" stroke-width="3.1"/>
<path d="M426.6 337.4Q420.9 348.5 418.0 360.6" stroke="#166816" stroke-width="3.3"/>
<path d="M408.0 360.6Q409.7 368.6 412.4 376.4" stroke="#166816" stroke-width="1.9"/>
<path d="M391.8 372.4Q399.0 383.6 402.6 396.4" stroke="#166816" stroke-width="3.5"/>
<path d="M429.0 361.8Q423.7 372.4 419.4 383.4" stroke="#166816" stroke-width="2.9"/>
<path d="M438.2 360.4Q433.0 373.1 430.6 386.6" stroke="#166816" stroke-width="2.9"/>
<path d="M459.8 360.6Q459.2 372.6 452.9 382.8" stroke="#166816" stroke-width="3.2"/>
<path d="M472.6 357.0Q470.4 368.5 465.4 379.0" stroke="#166816" stroke-width="3.3"/>
<path d="M486.4 358.0Q482.6 367.4 477.0 375.8" stroke="#166816" stroke-width="3.1"/>
<path d="M488.6 394.0Q488.1 403.0 488.6 412.0" stroke="#166816" stroke-width="2.9"/>
</g>
<g stroke-linecap="round" fill="none" filter="url(#fb)" style="mix-blend-mode:screen">
<path d="M404.0 304.5Q407.9 310.1 411.8 315.6" stroke="#1c1cf0" stroke-width="6.7"/>
<path d="M420.6 323.4Q426.6 325.3 431.8 329.0" stroke="#1c1cf0" stroke-width="7.5"/>
<path d="M380.8 350.2Q393.5 344.7 406.6 349.2" stroke="#1c1cf0" stroke-width="6.5"/>
<path d="M426.6 337.4Q420.9 348.5 418.0 360.6" stroke="#1c1cf0" stroke-width="6.7"/>
<path d="M408.0 360.6Q409.7 368.6 412.4 376.4" stroke="#1c1cf0" stroke-width="5.3"/>
<path d="M391.8 372.4Q399.0 383.6 402.6 396.4" stroke="#1c1cf0" stroke-width="6.9"/>
<path d="M429.0 361.8Q423.7 372.4 419.4 383.4" stroke="#1c1cf0" stroke-width="6.3"/>
<path d="M438.2 360.4Q433.0 373.1 430.6 386.6" stroke="#1c1cf0" stroke-width="6.3"/>
<path d="M459.8 360.6Q459.2 372.6 452.9 382.8" stroke="#1c1cf0" stroke-width="6.6"/>
<path d="M472.6 357.0Q470.4 368.5 465.4 379.0" stroke="#1c1cf0" stroke-width="6.7"/>
<path d="M486.4 358.0Q482.6 367.4 477.0 375.8" stroke="#1c1cf0" stroke-width="6.5"/>
<path d="M488.6 394.0Q488.1 403.0 488.6 412.0" stroke="#1c1cf0" stroke-width="6.3"/>
<path d="M404.0 304.5Q407.9 310.1 411.8 315.6" stroke="#2626ff" stroke-width="4.3"/>
<path d="M420.6 323.4Q426.6 325.3 431.8 329.0" stroke="#2626ff" stroke-width="5.1"/>
<path d="M380.8 350.2Q393.5 344.7 406.6 349.2" stroke="#2626ff" stroke-width="4.1"/>
<path d="M426.6 337.4Q420.9 348.5 418.0 360.6" stroke="#2626ff" stroke-width="4.3"/>
<path d="M408.0 360.6Q409.7 368.6 412.4 376.4" stroke="#2626ff" stroke-width="2.9"/>
<path d="M391.8 372.4Q399.0 383.6 402.6 396.4" stroke="#2626ff" stroke-width="4.5"/>
<path d="M429.0 361.8Q423.7 372.4 419.4 383.4" stroke="#2626ff" stroke-width="3.9"/>
<path d="M438.2 360.4Q433.0 373.1 430.6 386.6" stroke="#2626ff" stroke-width="3.9"/>
<path d="M459.8 360.6Q459.2 372.6 452.9 382.8" stroke="#2626ff" stroke-width="4.2"/>
<path d="M472.6 357.0Q470.4 368.5 465.4 379.0" stroke="#2626ff" stroke-width="4.3"/>
<path d="M486.4 358.0Q482.6 367.4 477.0 375.8" stroke="#2626ff" stroke-width="4.1"/>
<path d="M488.6 394.0Q488.1 403.0 488.6 412.0" stroke="#2626ff" stroke-width="3.9"/>
</g>
<circle cx="433.80" cy="351.60" r="0.9" fill="#35e035" filter="url(#b05)"/>
<circle cx="401.80" cy="338.40" r="1.1" fill="#1848c8" filter="url(#b08)"/>
<circle cx="459.60" cy="326.00" r="1.2" fill="#143aa8" filter="url(#b08)"/>
<circle cx="426.40" cy="307.40" r="1.6" fill="#20a8a0" filter="url(#b08)"/>
<rect x="375.9" y="396.0" width="13.5" height="3.8" fill="#fff"/>
<text x="370.80" y="409.40" font-size="10.2" text-anchor="start" fill="#fff" font-weight="normal"  textLength="21.8" lengthAdjust="spacingAndGlyphs">1 µm</text>
</svg>
</g></svg></body></html>
